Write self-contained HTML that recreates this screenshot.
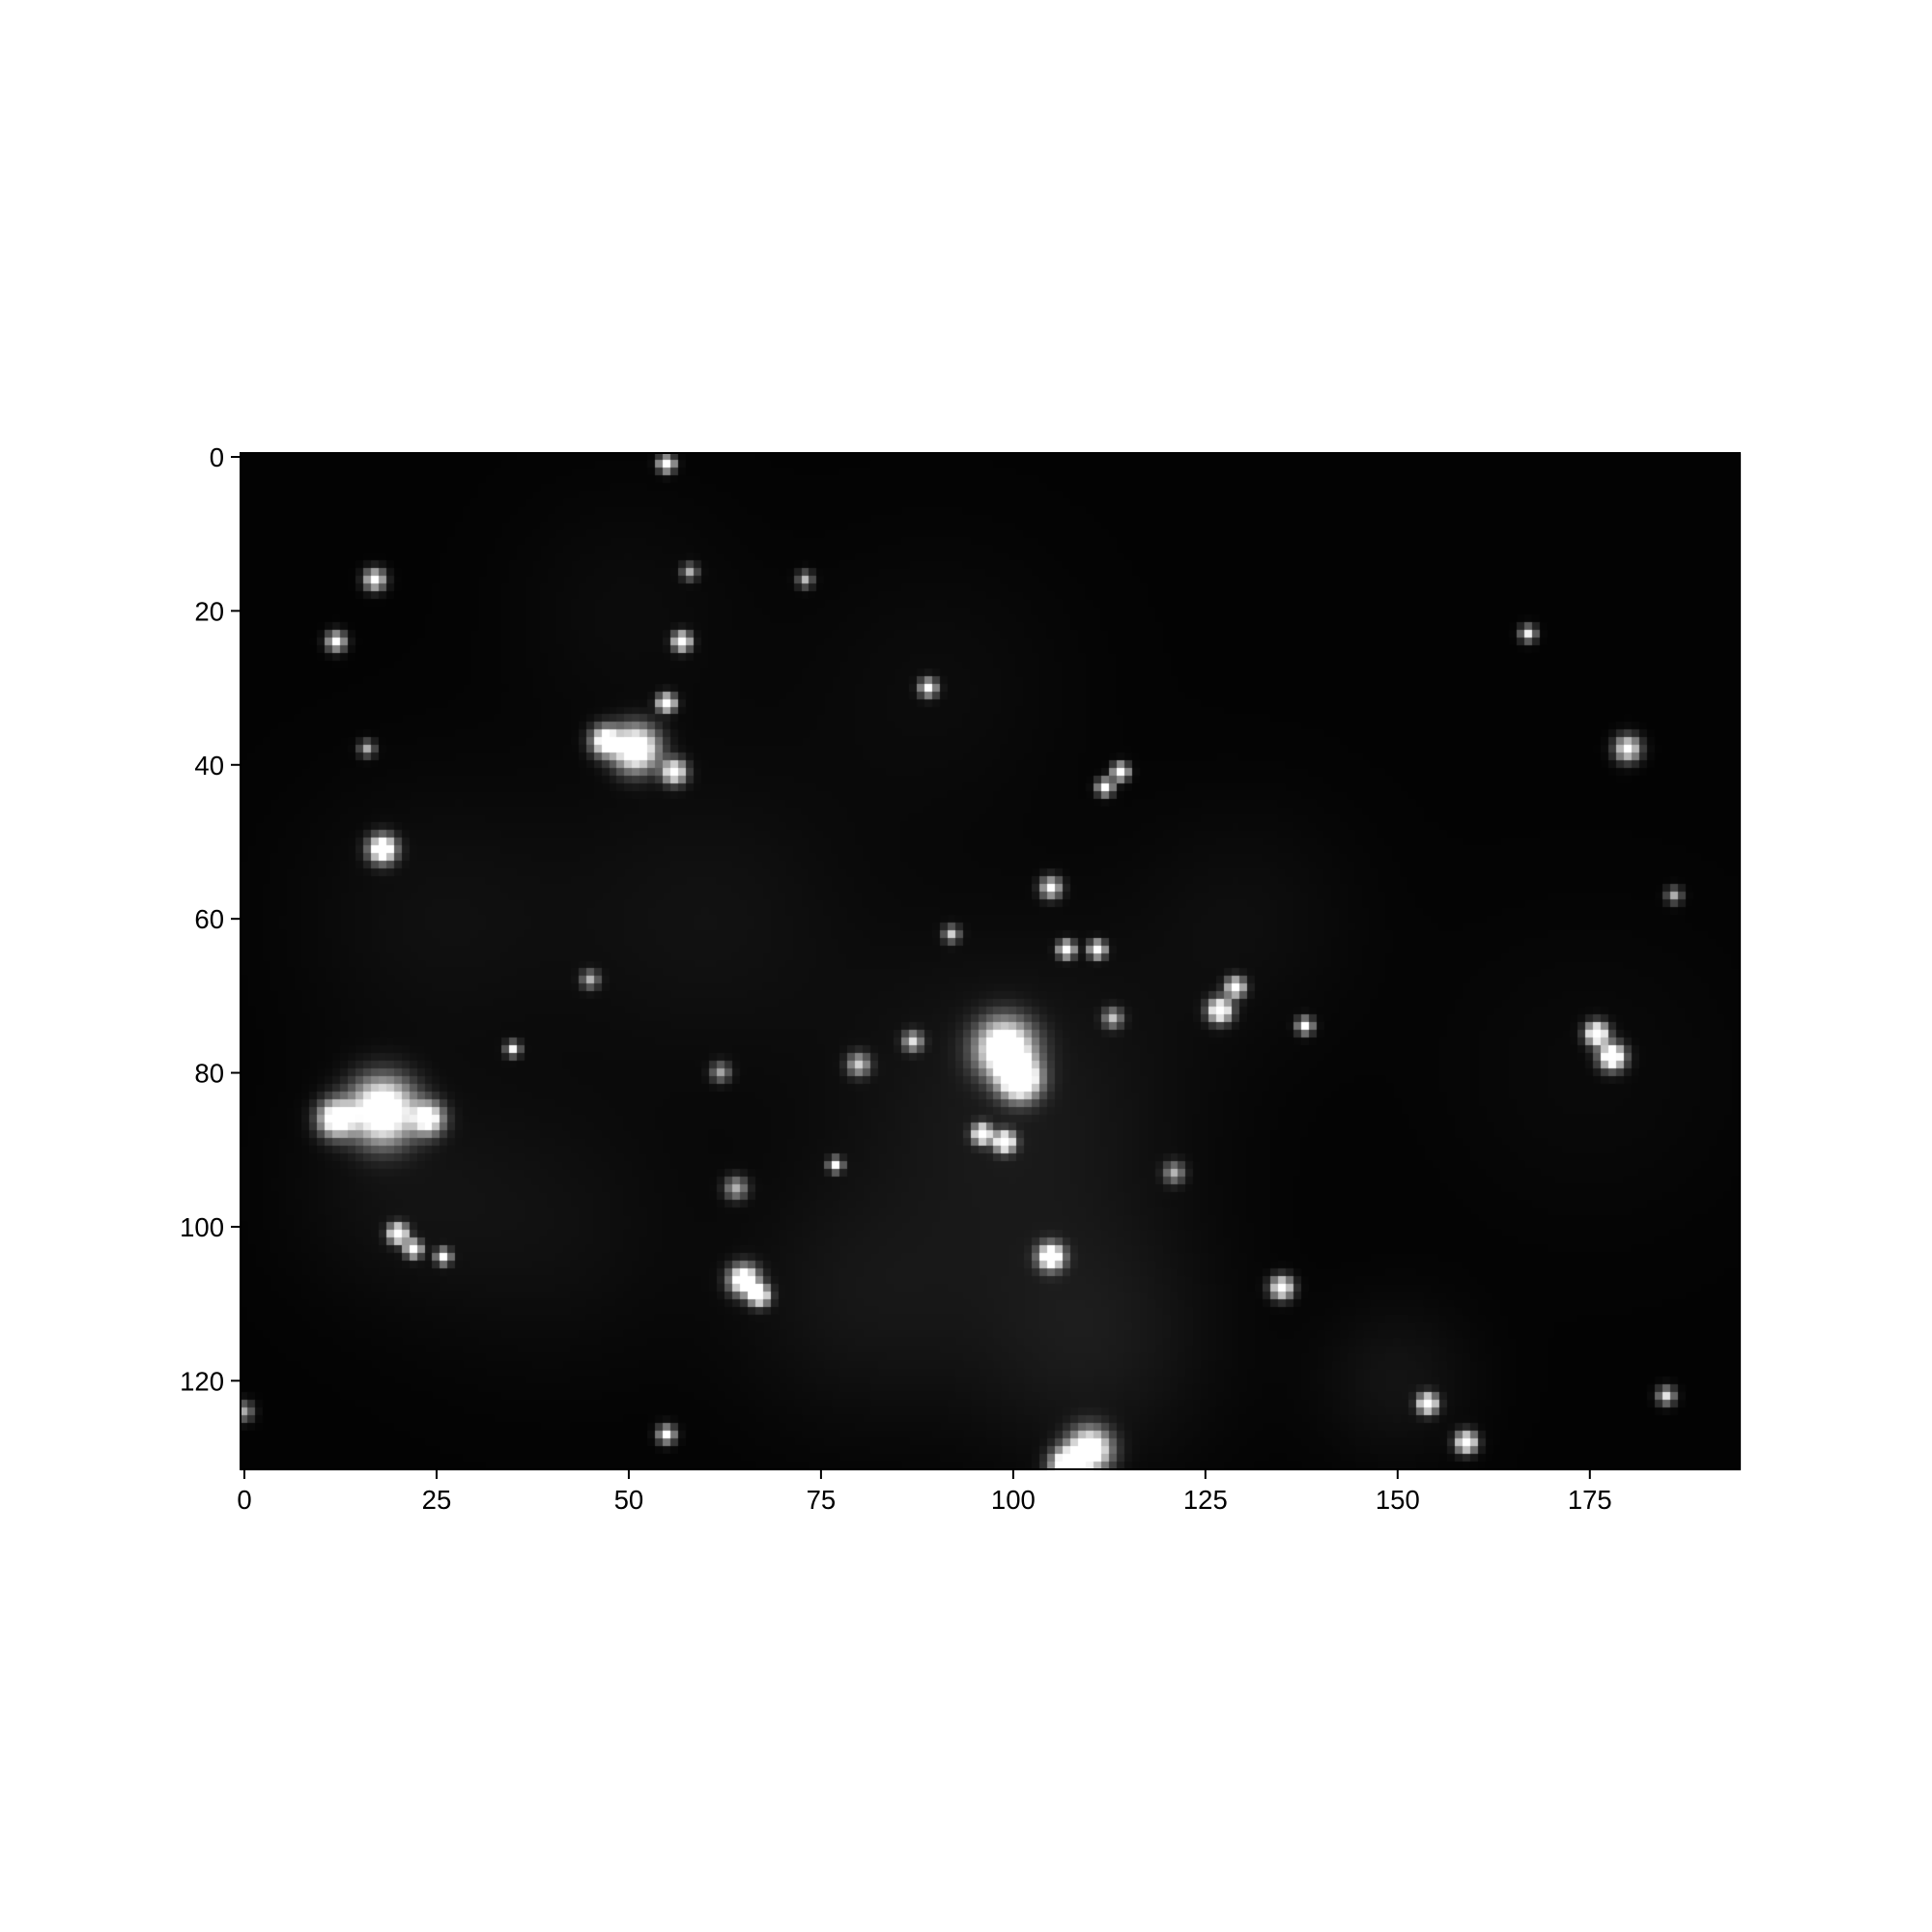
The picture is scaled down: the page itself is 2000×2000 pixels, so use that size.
<!DOCTYPE html>
<html><head><meta charset="utf-8"><style>
html,body{margin:0;padding:0;background:#fff;width:2000px;height:2000px;overflow:hidden}
#wrap{position:relative;width:2000px;height:2000px}
canvas{position:absolute;left:0;top:0}
svg{position:absolute;left:0;top:0}
text{font-family:"Liberation Sans","DejaVu Sans",sans-serif;font-size:27.5px;fill:#000}
</style></head><body>
<div id="wrap">
<canvas id="cv" width="2000" height="2000"></canvas>
<svg id="ax" width="2000" height="2000"></svg>
</div>
<script>
const nCols = 195;
const nRows = 132;
const xTicks = [0,25,50,75,100,125,150,175];
const yTicks = [0,20,40,60,80,100,120];
// bright spots: column, row, radius (cells), peak value (0-255)
const spotCol = [55,17,12,57,55,51,47,56,89,73,114,112,18,105,107,111,99,101,96,99,77,18,12,24,20,22,26,65,67,105,135,127,129,138,176,178,180,167,186,55,110,107,154,159,185,121,35,45,16,0,58,92,113,87,80,62,64];
const spotRow = [1,16,24,24,32,38,37,41,30,16,41,43,51,56,64,64,77,81,88,89,92,85,86,86,101,103,104,107,109,104,108,72,69,74,75,78,38,23,57,127,129,131,123,128,122,93,77,68,38,124,15,62,73,76,79,80,95];
const spotR = [1.0,1.3,1.2,1.1,1.1,2.8,1.8,1.5,1.1,1.0,1.0,1.0,1.7,1.3,1.0,1.0,3.6,2.5,1.2,1.3,0.8,4.0,2.2,2.0,1.2,1.0,0.9,1.8,1.3,1.6,1.4,1.5,1.2,1.0,1.4,1.6,1.6,1.0,1.0,1.1,2.6,2.0,1.2,1.3,1.1,1.3,0.9,1.1,1.0,1.2,1.0,1.0,1.2,1.2,1.4,1.2,1.4];
const spotV = [255,200,190,255,255,255,220,210,190,130,255,220,255,180,255,255,255,255,255,255,255,255,230,200,255,255,230,255,240,255,220,240,220,200,255,255,190,170,120,190,255,240,255,240,160,120,170,120,120,120,120,140,130,150,140,110,120];
// diffuse glow regions: column, row, radius, value
const glowCol = [100,60,25,110,40,130,80,150,20,50,90,175];
const glowRow = [85,60,60,115,100,60,110,120,95,20,30,80];
const glowR = [22,20,18,16,18,15,16,10,14,15,18,20];
const glowV = [22,14,12,22,12,10,16,16,12,8,8,6];
const base = 3;

const L=249,T=469,W=1552,H=1052;
const cw=W/nCols, ch=H/nRows;
function xPix(v){return L+(v+0.5)*cw;}
function yPix(v){return T+(v+0.5)*ch;}

const ctx=document.getElementById('cv').getContext('2d');
for(let r=0;r<nRows;r++){
  for(let c=0;c<nCols;c++){
    let v=base;
    for(let i=0;i<glowCol.length;i++){
      const d2=((c-glowCol[i])**2+(r-glowRow[i])**2)/(glowR[i]*glowR[i]);
      v+=glowV[i]*Math.exp(-d2);
    }
    for(let i=0;i<spotCol.length;i++){
      const d2=((c-spotCol[i])**2+(r-spotRow[i])**2)/(spotR[i]*spotR[i]);
      v+=spotV[i]*1.4*Math.exp(-d2);
    }
    v=Math.max(0,Math.min(255,Math.round(v)));
    ctx.fillStyle='rgb('+v+','+v+','+v+')';
    ctx.fillRect(Math.floor(L+c*cw),Math.floor(T+r*ch),Math.ceil(cw)+1,Math.ceil(ch)+1);
  }
}
const svg=document.getElementById('ax');
const NS='http://www.w3.org/2000/svg';
const frame=document.createElementNS(NS,'rect');
frame.setAttribute('x',L);frame.setAttribute('y',T);frame.setAttribute('width',W);frame.setAttribute('height',H);
frame.setAttribute('fill','none');frame.setAttribute('stroke','#000');frame.setAttribute('stroke-width','2');


svg.appendChild(frame);
xTicks.forEach(t=>{
  const x=xPix(t);
  const ln=document.createElementNS(NS,'line');
  ln.setAttribute('x1',x);ln.setAttribute('x2',x);ln.setAttribute('y1',T+H);ln.setAttribute('y2',T+H+10);
  ln.setAttribute('stroke','#000');ln.setAttribute('stroke-width','2');
  
  
  svg.appendChild(ln);
  const tx=document.createElementNS(NS,'text');
  tx.setAttribute('x',x);tx.setAttribute('y',T+H+41);tx.setAttribute('text-anchor','middle');
  tx.textContent=t;
  
  
  svg.appendChild(tx);
});
yTicks.forEach(t=>{
  const y=yPix(t);
  const ln=document.createElementNS(NS,'line');
  ln.setAttribute('x1',L-10);ln.setAttribute('x2',L);ln.setAttribute('y1',y);ln.setAttribute('y2',y);
  ln.setAttribute('stroke','#000');ln.setAttribute('stroke-width','2');
  
  
  svg.appendChild(ln);
  const tx=document.createElementNS(NS,'text');
  tx.setAttribute('x',L-17);tx.setAttribute('y',y+10);tx.setAttribute('text-anchor','end');
  tx.textContent=t;
  
  
  svg.appendChild(tx);
});
</script>
</body></html>
